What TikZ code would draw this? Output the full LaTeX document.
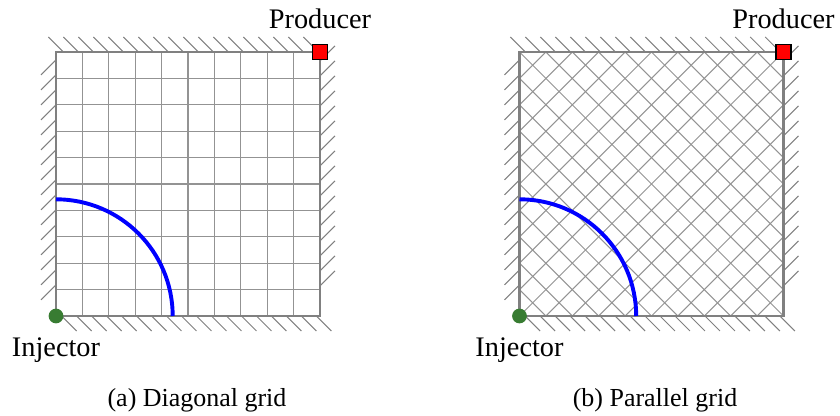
\documentclass[tikz,border=0pt]{standalone}
\usepackage{fontspec}
\setmainfont{Liberation Serif}
\usetikzlibrary{positioning}
\definecolor{injgreen}{RGB}{56,124,50}
\tikzset{
  wall/.style={draw=gray,line width=.8pt},
  gridline/.style={draw=gray!85,line width=.4pt},
  hatch/.style={draw=gray,line width=.4pt},
  front/.style={draw=blue,line width=1.5pt},
  injector/.style={fill=injgreen},
  producer/.style={fill=red,draw=black,line width=.5pt},
  welllabel/.style={anchor=base,font=\fontsize{10.9}{13}\selectfont}
}

\begin{document}
\begin{tikzpicture}[x=0.385pt,y=0.385pt,every node/.style={font=\fontsize{10}{12}\selectfont}]
\useasboundingbox (0,0) rectangle (840,416);
\begin{scope}[shift={(56,100)},x=10.164pt,y=10.164pt]
\foreach \i in {1,...,9} {
  \draw[gridline] (\i,0) -- (\i,10);
  \draw[gridline] (0,\i) -- (10,\i);
}
\foreach \s in {0,...,17} \draw[hatch] ({0.28+0.568*\s},10) -- ++(-0.568,0.568);
\foreach \s in {0,...,17} \draw[hatch] ({0.21+0.568*\s},0) -- ++(0.568,-0.568);
\foreach \s in {0,...,15} \draw[hatch] (0,{9.70-0.568*\s}) -- ++(-0.568,-0.568);
\foreach \s in {0,...,15} \draw[hatch] (10,{9.66-0.568*\s}) -- ++(0.568,0.568);
\draw[wall] (0,0) rectangle (10,10);
\draw[front] (0,4.42) arc (90:0:4.42);
\fill[injector] (0,0) circle (0.28);
\filldraw[producer] (9.716,9.716) rectangle (10.284,10.284);
\node[welllabel] (prodA) at (10,10.9) {Producer};
\node[welllabel] (injA) at (0,-1.55) {Injector};
\end{scope}
\begin{scope}[shift={(519.5,100)},x=10.164pt,y=10.164pt]
\begin{scope}
\clip (0,0) rectangle (10,10);
\foreach \k in {-10,...,10} {
  \draw[gridline] (\k,0) -- ++(10,10);
  \draw[gridline] (\k,10) -- ++(10,-10);
}
\end{scope}
\foreach \s in {0,...,17} \draw[hatch] ({0.22+0.568*\s},10) -- ++(-0.568,0.568);
\foreach \s in {0,...,17} \draw[hatch] ({0.21+0.568*\s},0) -- ++(0.568,-0.568);
\foreach \s in {0,...,15} \draw[hatch] (0,{9.70-0.568*\s}) -- ++(-0.568,-0.568);
\foreach \s in {0,...,15} \draw[hatch] (10,{9.66-0.568*\s}) -- ++(0.568,0.568);
\draw[wall] (0,0) rectangle (10,10);
\draw[front] (0,4.42) arc (90:0:4.42);
\fill[injector] (0,0) circle (0.28);
\filldraw[producer] (9.716,9.716) rectangle (10.284,10.284);
\node[welllabel] (prodB) at (10,10.9) {Producer};
\node[welllabel] (injB) at (0,-1.55) {Injector};
\end{scope}
\node[anchor=base] (capA) at (197,9) {(a) Diagonal grid};
\node[anchor=base] (capB) at (655,9) {(b) Parallel grid};
\end{tikzpicture}
\end{document}
